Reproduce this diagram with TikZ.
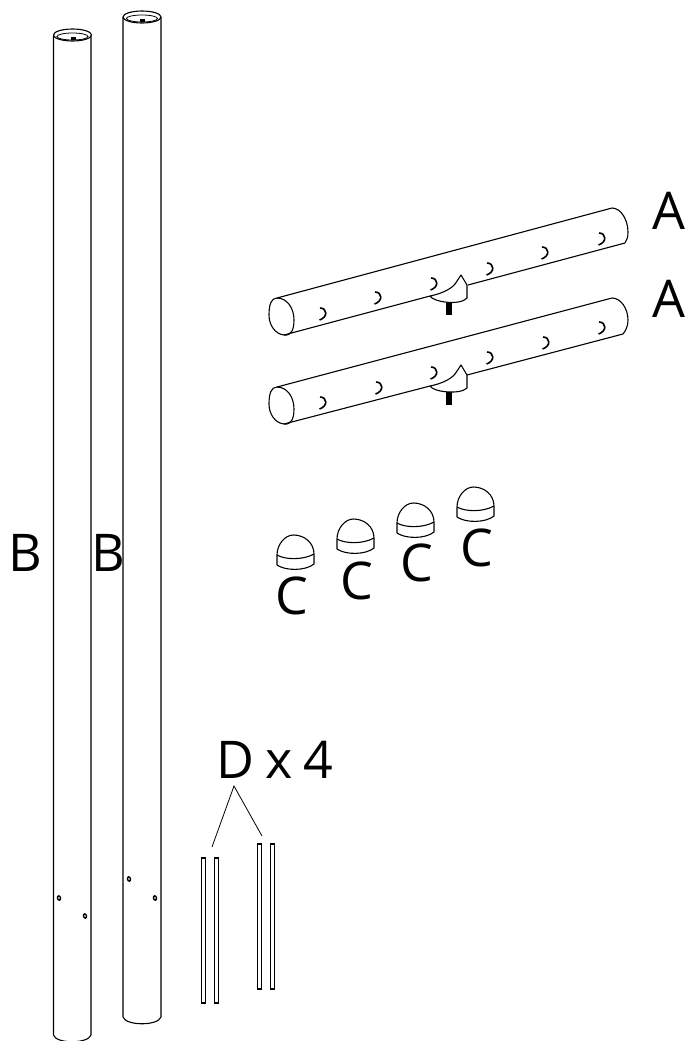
\documentclass[tikz,border=0pt]{standalone}
\usepackage{fontspec}
\setmainfont{Open Sans}
\tikzset{
  partline/.style={line width=1.1pt, line join=round},
  thinline/.style={line width=0.8pt},
  partlabel/.style={inner sep=0pt, font=\fontsize{52}{52}\selectfont},
  hookmark/.pic={
    \draw[line width=1.6pt] (-3,-6) .. controls (4,-6) and (5.5,3) .. (-3.5,6);
  },
  holemark/.pic={
    \draw[line width=1.4pt, rotate=15] (0,0) ellipse [x radius=1.5pt, y radius=2.2pt];
  },
  domecap/.pic={
    \draw[partline] (-18.5,20) .. controls (-18.5,10) and (-11,0) .. (-2,0) .. controls (9,0) and (18.5,8) .. (18.5,19);
    \draw[partline] (-18.5,20) .. controls (-10,25) and (8,25) .. (18.5,19);
    \draw[partline] (-18.5,20) -- (-18.5,30) .. controls (-10,36) and (10,36) .. (18.5,29) -- (18.5,19);
  },
  rodpart/.pic={
    \draw[line width=1.2pt] (-2,0) rectangle (2,145);
  }
}
\begin{document}
\begin{tikzpicture}[x=1pt, y=-1pt]
  \useasboundingbox (0,0) rectangle (690,1041);

  % long tubes
  \draw[partline] (53.5,36) -- (53.5,1035) .. controls (56,1044) and (88,1044) .. (91,1035) -- (91,36);
  \draw[partline] (72.5,35) ellipse [x radius=19pt, y radius=6pt];
  \draw[thinline] (72.5,36.5) ellipse [x radius=15.5pt, y radius=3.5pt];
  \fill (70.5,37) rectangle (75.5,40);
  \draw[partline] (123,17) -- (123,1017) .. controls (126,1026) and (158,1026) .. (161,1017) -- (161,17);
  \draw[partline] (142,17) ellipse [x radius=19pt, y radius=6pt];
  \draw[thinline] (142,18.5) ellipse [x radius=15.5pt, y radius=3.5pt];
  \fill (140,19) rectangle (145,22);
  \pic at (59,898) {holemark};
  \pic at (85,916) {holemark};
  \pic at (129,879) {holemark};
  \pic at (155,898) {holemark};

  \node[partlabel] (b1) at (25,553) {B};
  \node[partlabel] (b2) at (108,553) {B};

  % upper bar
  \draw[partline] (277,298) .. controls (287,298) and (294,308) .. (294,320) .. controls (294,330) and (291,336) .. (284,335) .. controls (275,334) and (269,325) .. (269,315) .. controls (269,305) and (271,298) .. (277,298);
  \draw[partline] (277,298) -- (612,208) .. controls (621,208) and (628,220) .. (628,232) .. controls (628,237) and (627,240) .. (625,243) -- (468,285);
  \draw[partline] (284,335) -- (430,296);
  \draw[partline] (430,296) .. controls (433,302) and (460,306) .. (467,298) -- (467,285) -- (461,275) -- (455,284) .. controls (450,290) and (440,294) .. (430,296);
  \fill (445.5,303) rectangle (451.5,315);
  \pic at (323,314) {hookmark};
  \pic at (378,298) {hookmark};
  \pic at (434,284) {hookmark};
  \pic at (490,269) {hookmark};
  \pic at (545,253) {hookmark};
  \pic at (602,239) {hookmark};
  \node[partlabel] (a1) at (669,211) {A};

  % lower bar
  \draw[partline] (277,387) .. controls (287,387) and (294,397) .. (294,409) .. controls (294,419) and (291,425) .. (284,424) .. controls (275,423) and (269,414) .. (269,404) .. controls (269,394) and (271,387) .. (277,387);
  \draw[partline] (277,387) -- (612,298) .. controls (621,298) and (628,309) .. (628,320) .. controls (628,326) and (626,330) .. (623,334) -- (467,375);
  \draw[partline] (284,424) -- (430,386);
  \draw[partline] (430,386) .. controls (433,392) and (460,395) .. (467,388) -- (467,375) -- (461,365) -- (455,374) .. controls (450,380) and (440,384) .. (430,386);
  \fill (445.5,392) rectangle (451.5,405);
  \pic at (323,403) {hookmark};
  \pic at (379,388) {hookmark};
  \pic at (434,373) {hookmark};
  \pic at (490,358) {hookmark};
  \pic at (546,343) {hookmark};
  \pic at (602,328) {hookmark};
  \node[partlabel] (a2) at (669,299) {A};

  % caps
  \pic at (295.5,535) {domecap};
  \pic at (355.5,519) {domecap};
  \pic at (415.5,503) {domecap};
  \pic at (475.5,487) {domecap};
  \node[partlabel] (c1) at (292,596) {C};
  \node[partlabel] (c2) at (357,581) {C};
  \node[partlabel] (c3) at (417,563) {C};
  \node[partlabel] (c4) at (477,548) {C};

  % rods
  \pic at (203.5,858) {rodpart};
  \pic at (216.5,858) {rodpart};
  \pic at (259.5,844) {rodpart};
  \pic at (272.5,844) {rodpart};
  \node[partlabel] (d) at (275,760) {D\hspace{11pt}x\hspace{11pt}4};
  \coordinate (dtop) at (234,786);
  \coordinate (dleft) at (212,847);
  \coordinate (dright) at (262,836);
  \draw[thinline] (dleft) -- (dtop) -- (dright);
\end{tikzpicture}
\end{document}
